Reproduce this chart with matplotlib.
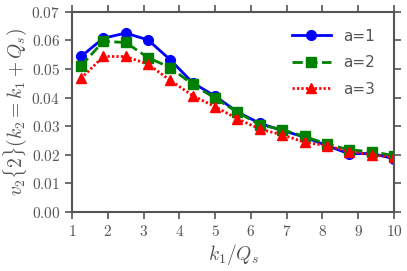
import matplotlib
matplotlib.use("Agg")
import matplotlib.pyplot as plt
from matplotlib.ticker import FuncFormatter, MultipleLocator

k1 = [1.25, 1.875, 2.5, 3.125, 3.75, 4.375, 5.0, 5.625, 6.25, 6.875, 7.5, 8.125, 8.75, 9.375, 10.0]
v_a1 = [0.0544, 0.0608, 0.0626, 0.0602, 0.0532, 0.0452, 0.0405, 0.0350, 0.0310, 0.0285, 0.0262, 0.0232, 0.0203, 0.0205, 0.0186]
v_a2 = [0.0511, 0.0597, 0.0593, 0.0540, 0.0505, 0.0446, 0.0398, 0.0349, 0.0305, 0.0288, 0.0264, 0.0238, 0.0217, 0.0211, 0.0197]
v_a3 = [0.0467, 0.0544, 0.0544, 0.0517, 0.0460, 0.0407, 0.0368, 0.0326, 0.0290, 0.0270, 0.0244, 0.0232, 0.0211, 0.0200, 0.0191]
labels = ["a=1", "a=2", "a=3"]

plt.rcParams['mathtext.fontset'] = 'cm'
gray = '#555555'

fig = plt.figure(figsize=(4.07, 2.71), dpi=100)
ax = fig.add_axes([0.177, 0.218, 0.791, 0.738])

ax.plot(k1, v_a1, '-', color='blue', marker='o', lw=2, ms=7, label=labels[0])
ax.plot(k1, v_a2, '--', color='green', marker='s', lw=2, ms=7, label=labels[1])
ax.plot(k1, v_a3, color='red', marker='^', lw=2, ms=7, label=labels[2],
        linestyle=(0, (0.8, 0.8)))

ax.set_xlim(1, 10)
ax.set_ylim(0, 0.07)
ax.xaxis.set_major_locator(MultipleLocator(1))
ax.yaxis.set_major_locator(MultipleLocator(0.01))
ax.xaxis.set_major_formatter(FuncFormatter(lambda v, p: r'$%d$' % round(v)))
ax.yaxis.set_major_formatter(FuncFormatter(lambda v, p: r'$%.2f$' % v))

for s in ax.spines.values():
    s.set_color(gray)
    s.set_linewidth(1.5)
ax.tick_params(direction='out', top=True, right=True, length=5, width=1.2,
               color=gray, labelcolor=gray, labelsize=11)

ax.set_xlabel(r'$k_1/Q_s$', fontsize=14, color=gray, labelpad=2)
ax.set_ylabel(r'$v_2\{2\}(k_2=k_1+Q_s)$', fontsize=14, color=gray, labelpad=2)

leg = ax.legend(frameon=False, fontsize=11, loc='upper right', handlelength=2.6,
                bbox_to_anchor=(0.985, 0.985), labelspacing=0.75, handletextpad=0.8)
for t in leg.get_texts():
    t.set_color(gray)

fig.savefig('out.png', dpi=100)
